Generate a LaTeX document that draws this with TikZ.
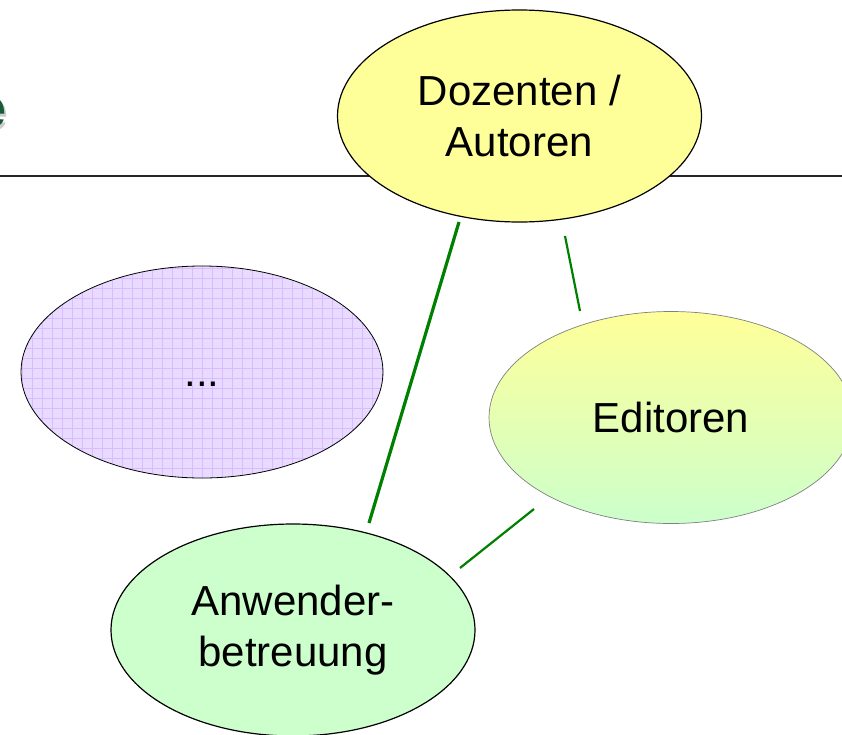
\documentclass[tikz,border=0pt]{standalone}
\usepackage{fontspec}
\setmainfont{Liberation Sans}
\usetikzlibrary{shapes.geometric}
\definecolor{dozfill}{RGB}{255,255,153}
\definecolor{anwfill}{RGB}{204,255,204}
\definecolor{lilac}{RGB}{233,219,255}
\definecolor{lilacgrid}{RGB}{216,188,255}
\definecolor{linkgreen}{RGB}{0,128,0}
\definecolor{logogreen}{RGB}{24,90,60}
\tikzset{
  bubble/.style={ellipse, inner sep=0pt, minimum width=364pt, minimum height=212pt,
    align=center, font=\fontsize{42}{51}\selectfont},
  link/.style={draw=linkgreen, line width=2.2pt},
  thicklink/.style={draw=linkgreen, line width=3.2pt},
  gridline/.style={draw=lilacgrid, line width=0.9pt},
}
\begin{document}
\begin{tikzpicture}[x=1pt,y=-1pt]
\useasboundingbox (0,0) rectangle (842,734);
\fill[white] (0,0) rectangle (842,734);
% partial logo letter
\node[anchor=east, text=gray!40, font=\bfseries\fontsize{56}{60}\selectfont, inner sep=0pt] (logoshadow) at (9,116) {e};
\node[anchor=east, text=logogreen, font=\bfseries\fontsize{56}{60}\selectfont, inner sep=0pt] (logo) at (7,113) {e};
% header rule
\draw[line width=1.4pt, black!85] (0,176) -- (842,176);
% purple ellipse with grid
\fill[lilac] (202,372) ellipse [x radius=181, y radius=106];
\begin{scope}
  \clip (202,372) ellipse [x radius=181, y radius=106];
  \foreach \gx in {22,32,...,392} { \draw[gridline] (\gx,260) -- (\gx,490); }
  \foreach \gy in {268,278,...,488} { \draw[gridline] (15,\gy) -- (395,\gy); }
\end{scope}
\draw[black, line width=0.8pt] (202,372) ellipse [x radius=181, y radius=106];
\node[font=\fontsize{42}{51}\selectfont] (dots) at (202,384) {...};
% main bubbles
\node[bubble, draw=black, line width=1.2pt, fill=dozfill] (doz) at (519.5,116) {Dozenten /\\Autoren};
\node[bubble, draw=gray, line width=0.7pt, top color=dozfill, bottom color=anwfill] (edit) at (671,417.5) {Editoren};
\node[bubble, draw=black, line width=1.2pt, fill=anwfill] (anw) at (293,630) {Anwender-\\betreuung};
% connectors
\coordinate (l1a) at (459,222);
\coordinate (l1b) at (369,523);
\coordinate (l2a) at (565,236);
\coordinate (l2b) at (580,311);
\coordinate (l3a) at (534,509);
\coordinate (l3b) at (460,568);
\draw[thicklink] (l1a) -- (l1b);
\draw[link] (l2a) -- (l2b);
\draw[link] (l3a) -- (l3b);
\end{tikzpicture}
\end{document}
